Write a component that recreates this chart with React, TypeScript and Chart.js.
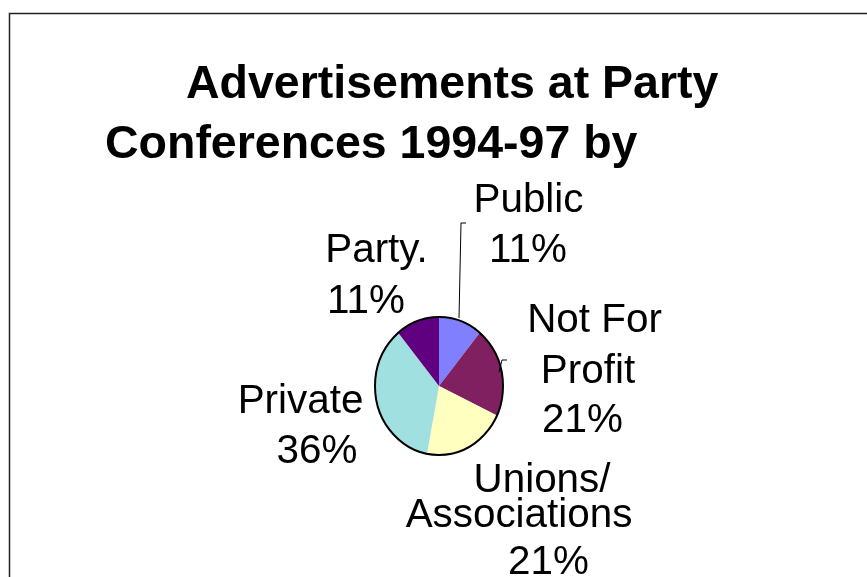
import React, { useEffect, useRef } from "react";
import { Chart, registerables } from "chart.js";

Chart.register(...registerables);

// ---- data ----
const categories = ["Public", "Not For Profit", "Unions/Associations", "Private", "Party."];
const values = [11, 21, 21, 36, 11];
const sliceColors = ["#8080FF", "#802060", "#FFFFC0", "#A0E0E0", "#600080"];
const labelLines = [["Public"], ["Not For", "Profit"], ["Unions/", "Associations"], ["Private"], ["Party."]];
const titleLines = ["Advertisements at Party", "Conferences 1994-97 by"];

// ---- layout (offsets relative to pie centre, per label line: [dx, baselineDy]) ----
const labelLayout: number[][][] = [
  [[89.5, -174], [89, -124]],
  [[155.5, -54], [149, -3], [143.5, 46]],
  [[103, 106], [80, 141], [109.5, 188]],
  [[-138.5, 27], [-122, 77]],
  [[-62.5, -124], [-73, -73]],
];
const leaderLayout: (number[][] | null)[] = [
  [[20, -68], [22, -163], [27, -163]],
  [[60, -14], [63, -26], [68, -26]],
  null,
  null,
  null,
];
const titlePos = [[186, 98], [105, 158]];
const yStretch = 1.078;
const FONT = "'Liberation Sans', Arial, Helvetica, sans-serif";

export default function App() {
  const canvasRef = useRef<HTMLCanvasElement | null>(null);

  useEffect(() => {
    const canvas = canvasRef.current;
    if (!canvas) return;
    const total = values.reduce((a, b) => a + b, 0);

    const framePlugin = {
      id: "frame",
      beforeDraw(chart: any) {
        const ctx = chart.ctx;
        ctx.save();
        ctx.fillStyle = "#ffffff";
        ctx.fillRect(0, 0, chart.width, chart.height);
        ctx.strokeStyle = "#222222";
        ctx.lineWidth = 1.5;
        ctx.beginPath();
        ctx.moveTo(9.5, chart.height);
        ctx.lineTo(9.5, 13.5);
        ctx.lineTo(chart.width, 13.5);
        ctx.stroke();
        // title
        ctx.fillStyle = "#000000";
        ctx.font = `bold 46.5px ${FONT}`;
        ctx.textAlign = "left";
        ctx.textBaseline = "alphabetic";
        titleLines.forEach((t, i) => ctx.fillText(t, titlePos[i][0], titlePos[i][1]));
        ctx.restore();
      },
    };

    const ellipsePlugin = {
      id: "ellipse",
      beforeDatasetsDraw(chart: any) {
        const arc = chart.getDatasetMeta(0).data[0];
        if (!arc) return;
        const ctx = chart.ctx;
        ctx.save();
        ctx.translate(arc.x, arc.y);
        ctx.scale(1, yStretch);
        ctx.translate(-arc.x, -arc.y);
      },
      afterDatasetsDraw(chart: any) {
        const arc = chart.getDatasetMeta(0).data[0];
        if (!arc) return;
        const ctx = chart.ctx;
        ctx.beginPath();
        ctx.arc(arc.x, arc.y, arc.outerRadius, 0, Math.PI * 2);
        ctx.strokeStyle = "#000000";
        ctx.lineWidth = 2;
        ctx.stroke();
        ctx.restore();
      },
    };

    const labelPlugin = {
      id: "sliceLabels",
      afterDraw(chart: any) {
        const meta = chart.getDatasetMeta(0);
        const ctx = chart.ctx;
        ctx.save();
        ctx.fillStyle = "#000000";
        ctx.font = `40.4px ${FONT}`;
        ctx.textAlign = "center";
        ctx.textBaseline = "alphabetic";
        meta.data.forEach((arc: any, i: number) => {
          const cx = arc.x;
          const cy = arc.y;
          const pct = Math.round((values[i] / total) * 100) + "%";
          const lines = [...labelLines[i], pct];
          lines.forEach((ln, j) => {
            const p = labelLayout[i][j];
            ctx.fillText(ln, cx + p[0], cy + p[1]);
          });
          const leader = leaderLayout[i];
          if (leader) {
            ctx.beginPath();
            ctx.strokeStyle = "#000000";
            ctx.lineWidth = 1;
            leader.forEach((pt, k) => {
              if (k === 0) ctx.moveTo(cx + pt[0], cy + pt[1]);
              else ctx.lineTo(cx + pt[0], cy + pt[1]);
            });
            ctx.stroke();
          }
        });
        ctx.restore();
      },
    };

    const chart = new Chart(canvas, {
      type: "pie",
      data: {
        labels: categories,
        datasets: [
          {
            data: values,
            backgroundColor: sliceColors,
            borderWidth: 0,
            clip: false as any,
          },
        ],
      },
      options: {
        animation: false,
        responsive: true,
        maintainAspectRatio: false,
        layout: { padding: { left: 375, right: 364, top: 322, bottom: 127 } },
        plugins: {
          legend: { display: false },
          title: { display: false },
          tooltip: { enabled: false },
        },
      },
      plugins: [framePlugin, ellipsePlugin, labelPlugin],
    });

    return () => chart.destroy();
  }, []);

  return (
    <div style={{ position: "absolute", left: 0, top: 0, width: 867, height: 577, background: "#fff" }}>
      <canvas ref={canvasRef} />
    </div>
  );
}
